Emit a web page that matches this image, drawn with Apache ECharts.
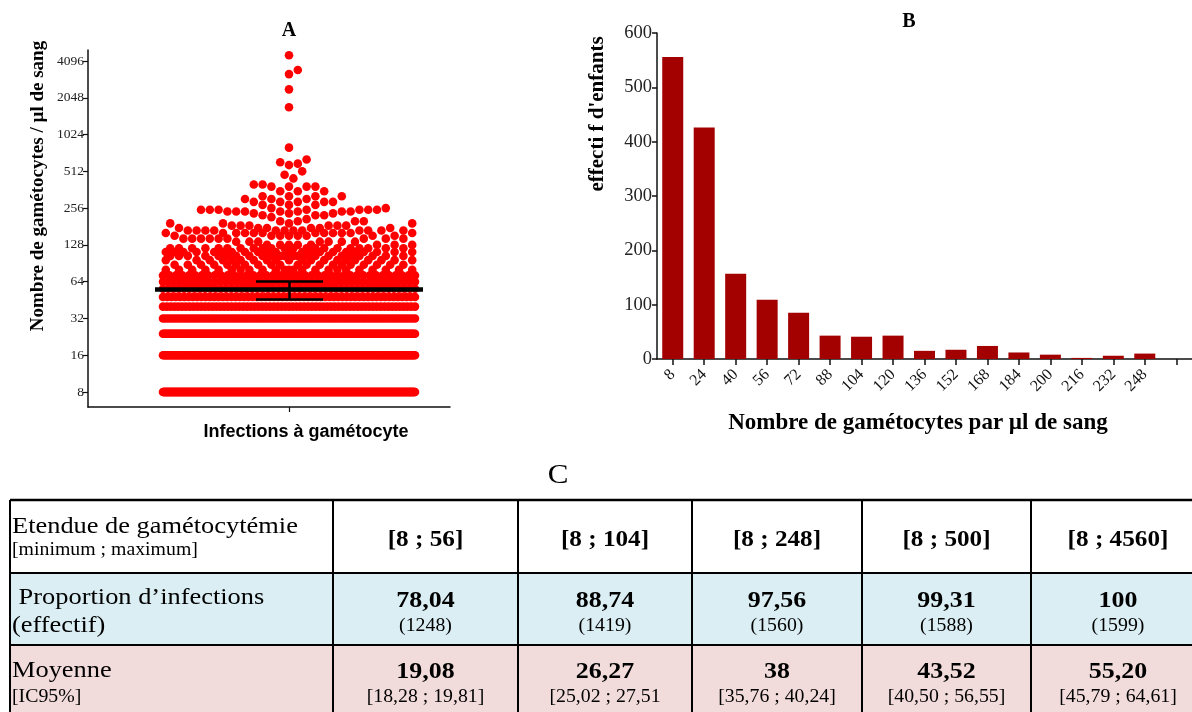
<!DOCTYPE html>
<html><head><meta charset="utf-8">
<script src="https://cdn.jsdelivr.net/npm/echarts@6/dist/echarts.min.js"></script>
<style>html,body{margin:0;padding:0;background:#fff}#c{width:1192px;height:712px}</style>
</head><body><div id="c"></div>
<script>
// ---------- DATA ----------
// Panel A : gametocyte density levels (per µl) and number of infections at each level
const levelValues = [8,16,24,32,40,48,56,64,72,80,88,96,104,112,120,128,136,144,152,160,168,176,184,192,200,208,216,224,232,240,248,256,272,288,304,320,352,384,400,448,480,512,576,592,608,640,800,1712,2400,3200,3456,4560];
const levelCounts = [556,230,196,90,67,60,49,45,40,23,20,20,23,22,21,8,7,9,8,12,12,6,6,4,4,1,1,3,3,7,7,2,3,5,3,4,3,4,2,1,1,1,1,1,1,1,1,1,1,1,1,1];
const yTicksA = [8,16,32,64,128,256,512,1024,2048,4096];
// Panel B : histogram
const binLabels = ['8','24','40','56','72','88','104','120','136','152','168','184','200','216','232','248',''];
const binCounts = [556,426,157,109,85,43,41,43,15,17,24,12,8,2,6,10];
// Panel C : table
const rangeLabels = ['[8 ; 56]','[8 ; 104]','[8 ; 248]','[8 ; 500]','[8 ; 4560]'];
const proportions = ['78,04','88,74','97,56','99,31','100'];
const effectifs = ['(1248)','(1419)','(1560)','(1588)','(1599)'];
const means = ['19,08','26,27','38','43,52','55,20'];
const cis = ['[18,28 ; 19,81]','[25,02 ; 27,51','[35,76 ; 40,24]','[40,50 ; 56,55]','[45,79 ; 64,61]'];

// ---------- LAYOUT ----------
const num = s => parseFloat(s.replace(/[\[\]]/g,'').replace(',', '.'));
const gA = {left:88, top:50, width:362, height:357};
const yMinA = 3 - 15/36.8, yMaxA = 12 + 11/36.8;
const xMinA = -201, xMaxA = 161;
const pxPerY = gA.height/(yMaxA - yMinA);
const D = 8.8, HALF = 126;

// beeswarm placement (column layout, capped width)
const placed = [], pts = [];
levelValues.forEach((v, i) => {
  const n = levelCounts[i], ly = Math.log2(v), yp = ly*pxPerY;
  if ((n-1)*D > 2*HALF) {
    for (let k=0;k<n;k++){ const x = -HALF + 2*HALF*k/(n-1); placed.push({x,yp}); pts.push([x,ly]); }
    return;
  }
  for (let k=0;k<n;k++){
    let best = 0, bestScore = -1;
    const steps = 2*Math.floor(HALF/(D/2));
    for (let j=0;j<=steps;j++){
      const m = Math.ceil(j/2)*(j%2 ? 1 : -1);
      const x = m*D/2;
      let md = Infinity;
      for (let q=placed.length-1;q>=0;q--){
        const p = placed[q];
        if (p.yp < yp - D) break;
        const dd = Math.hypot(p.x-x, p.yp-yp);
        if (dd < md) md = dd;
      }
      if (md >= 0.95*D){ best = x; bestScore = Infinity; break; }
      if (md > bestScore + 0.01){ bestScore = md; best = x; }
    }
    placed.push({x:best,yp}); pts.push([best,ly]);
  }
});
const meanAll = num(means[4]);
const ciParts = cis[4].replace(/[\[\]]/g,'').split(';');
const ciLo = num(ciParts[0]), ciHi = num(ciParts[1]);
const lm = Math.log2(meanAll), llo = Math.log2(ciLo), lhi = Math.log2(ciHi);

// ---------- TABLE GRAPHICS ----------
const serif = '"Liberation Serif","Times New Roman",serif';
function T(text, x, y, size, opt){
  opt = opt || {};
  return {type:'text', x:x, y:y, rotation:opt.rot||0, scaleX:opt.sx||1, z:10,
    style:{text:text, fontSize:size, fontFamily:opt.ff||serif, fontWeight:opt.bold?'bold':'normal',
      fill:'#000', align:opt.align||'center', textAlign:opt.align||'center',
      verticalAlign:'middle', textVerticalAlign:'middle'}};
}
const colX = [10,333,518,692,862,1031,1205];
const rowY = [500,573,645,718];
const rowFill = ['#ffffff','#daeef3','#f2dcdb'];
const g = [];
for (let r=0;r<3;r++) g.push({type:'rect', z:1, shape:{x:colX[0], y:rowY[r], width:colX[6]-colX[0], height:rowY[r+1]-rowY[r]}, style:{fill:rowFill[r]}});
for (let r=0;r<3;r++) g.push({type:'line', z:2, shape:{x1:colX[0], y1:rowY[r], x2:1192, y2:rowY[r]}, style:{stroke:'#000', lineWidth:r===0?2.5:2}});
for (let c=0;c<6;c++) g.push({type:'line', z:2, shape:{x1:colX[c], y1:rowY[0], x2:colX[c], y2:712}, style:{stroke:'#000', lineWidth:2}});
const SX = 1.1;
g.push(T('C', 558, 476, 27, {sx:1.15}));
g.push(T('Etendue de gamétocytémie', 12, 527, 24, {align:'left', sx:SX}));
g.push(T('[minimum ; maximum]', 12, 550, 18, {align:'left', sx:SX}));
g.push(T(' Proportion d\u2019infections', 12, 598, 24, {align:'left', sx:SX}));
g.push(T('(effectif)', 12, 626, 24, {align:'left', sx:SX}));
g.push(T('Moyenne', 12, 671, 24, {align:'left', sx:SX}));
g.push(T('[IC95%]', 12, 697, 18, {align:'left', sx:SX}));
for (let c=0;c<5;c++){
  const cx = (colX[c+1]+colX[c+2])/2;
  g.push(T(rangeLabels[c], cx, 540, 24, {bold:true, sx:1.05}));
  g.push(T(proportions[c], cx, 601, 24, {bold:true, sx:1.08}));
  g.push(T(effectifs[c], cx, 626, 18, {sx:SX}));
  g.push(T(means[c], cx, 672, 24, {bold:true, sx:1.08}));
  g.push(T(cis[c], cx, 697, 18, {sx:SX}));
}
// panel titles and axis names
g.push(T('A', 289, 31, 20, {bold:true}));
g.push(T('B', 909, 22, 20, {bold:true}));
g.push(T('Nombre de gamétocytes / µl de sang', 38, 186, 19, {bold:true, rot:Math.PI/2}));
g.push(T('Infections à gamétocyte', 306, 432, 18, {bold:true, ff:'"Liberation Sans",Arial,sans-serif'}));
g.push(T("effecti f d'enfants", 598, 114, 21, {bold:true, rot:Math.PI/2}));
g.push(T('Nombre de gamétocytes par µl de sang', 918, 423, 23, {bold:true}));

// ---------- CHART ----------
const chart = echarts.init(document.getElementById('c'));
const axLine = {show:true, onZero:false, lineStyle:{color:'#111', width:1.5}};
chart.setOption({
  animation:false,
  backgroundColor:'#fff',
  grid:[
    {left:gA.left, top:gA.top, width:gA.width, height:gA.height},
    {left:657, top:33, width:535, height:326}
  ],
  xAxis:[
    {gridIndex:0, type:'value', min:xMinA, max:xMaxA, axisLine:axLine,
     axisTick:{show:true, customValues:[0], length:5, lineStyle:{color:'#111', width:1.2}},
     axisLabel:{show:false}, splitLine:{show:false}},
    {gridIndex:1, type:'category', data:binLabels, axisLine:axLine,
     axisTick:{show:true, alignWithLabel:true, interval:0, length:6, lineStyle:{color:'#111', width:1.5}},
     axisLabel:{interval:0, rotate:45, fontFamily:serif, fontSize:16, color:'#111', margin:13},
     splitLine:{show:false}}
  ],
  yAxis:[
    {gridIndex:0, type:'value', min:yMinA, max:yMaxA, axisLine:axLine,
     axisTick:{show:true, customValues:yTicksA.map(Math.log2), length:5, lineStyle:{color:'#111', width:1.2}},
     axisLabel:{customValues:yTicksA.map(Math.log2), formatter:v=>String(Math.round(Math.pow(2,v))),
       fontFamily:serif, fontSize:13.5, color:'#222', margin:4},
     splitLine:{show:false}},
    {gridIndex:1, type:'value', min:0, max:600, interval:100, axisLine:axLine,
     axisTick:{show:true, length:5, lineStyle:{color:'#111', width:1.5}},
     axisLabel:{fontFamily:serif, fontSize:18.5, color:'#222', margin:5},
     splitLine:{show:false}}
  ],
  series:[
    {type:'scatter', xAxisIndex:0, yAxisIndex:0, data:pts, symbolSize:8.6,
     itemStyle:{color:'#ff0000', opacity:1}, silent:true, z:2},
    {type:'lines', coordinateSystem:'cartesian2d', xAxisIndex:0, yAxisIndex:0, polyline:false, silent:true, z:5,
     lineStyle:{color:'#000', opacity:1, width:2.5},
     data:[
       {coords:[[-134, lm],[134, lm]], lineStyle:{width:4.5}},
       {coords:[[0, llo],[0, lhi]]},
       {coords:[[-33, llo],[34, llo]]},
       {coords:[[-33, lhi],[34, lhi]]}
     ]},
    {type:'bar', xAxisIndex:1, yAxisIndex:1, data:binCounts, barWidth:21,
     itemStyle:{color:'#a30000'}, silent:true}
  ],
  graphic:g
});
</script></body></html>
